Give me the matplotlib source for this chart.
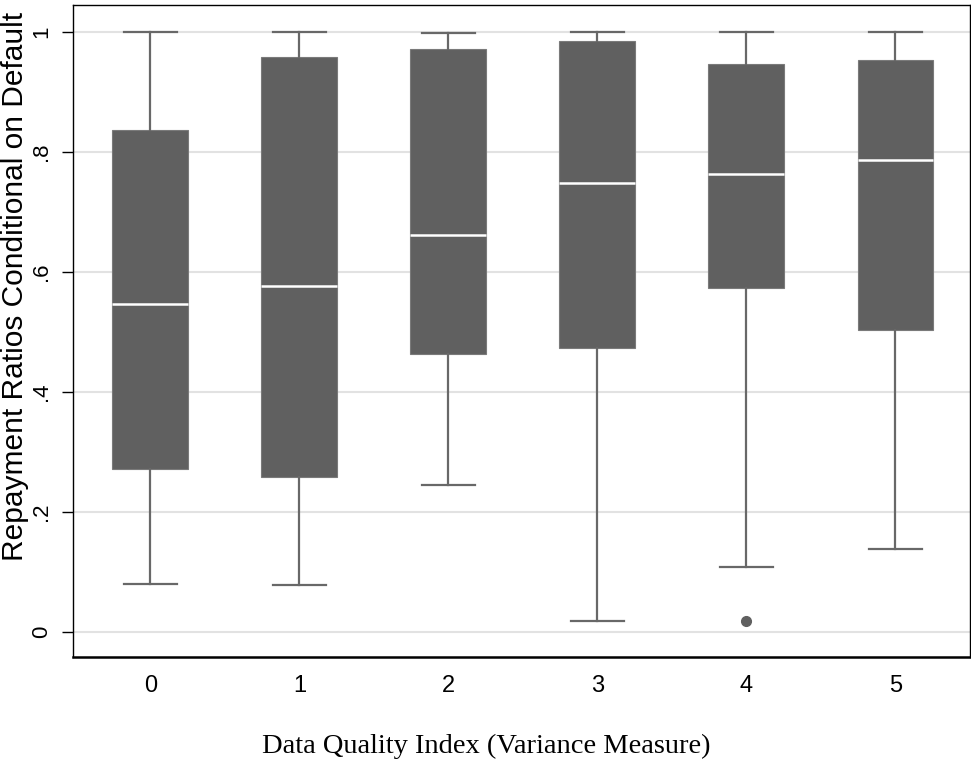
import matplotlib
matplotlib.use("Agg")
import matplotlib.pyplot as plt

categories = ["0", "1", "2", "3", "4", "5"]
whisker_low = [0.080, 0.078, 0.245, 0.018, 0.108, 0.138]
q1 = [0.272, 0.258, 0.463, 0.474, 0.574, 0.503]
median = [0.546, 0.577, 0.661, 0.749, 0.763, 0.787]
q3 = [0.837, 0.958, 0.972, 0.985, 0.946, 0.953]
whisker_high = [1.0, 1.0, 0.998, 1.0, 1.0, 1.0]
outliers = [[], [], [], [], [0.018], []]
y_ticks = [0, 0.2, 0.4, 0.6, 0.8, 1.0]
y_tick_labels = ["0", ".2", ".4", ".6", ".8", "1"]

stats = []
for i, c in enumerate(categories):
    stats.append(dict(label=c, whislo=whisker_low[i], q1=q1[i], med=median[i],
                      q3=q3[i], whishi=whisker_high[i], fliers=outliers[i]))

fig = plt.figure(figsize=(9.71, 7.62), dpi=100)
ax = fig.add_axes([73/971, 1-657/762, (970-73)/971, (657-5)/762])

box_c = "#606060"
wc = "#686868"
ax.bxp(stats, positions=range(len(categories)), widths=0.51, patch_artist=True,
       boxprops=dict(facecolor=box_c, edgecolor="#7a7a7a", linewidth=0.8),
       medianprops=dict(color="white", linewidth=1.8),
       whiskerprops=dict(color=wc, linewidth=1.6),
       capprops=dict(color=wc, linewidth=1.6),
       capwidths=0.35,
       flierprops=dict(marker="o", markerfacecolor=box_c, markeredgecolor=box_c, markersize=7),
       zorder=3)

ax.set_xlim(-0.52, 5.5)
ax.set_ylim(-0.0417, 1.045)
ax.set_yticks(y_ticks)
ax.set_yticklabels(y_tick_labels, rotation=90, va="center", fontsize=16,
                   family="Liberation Sans")
ax.set_xticks(range(len(categories)))
ax.set_xticklabels(categories, fontsize=17, family="Liberation Sans")
ax.tick_params(axis="x", length=0, pad=13)
ax.tick_params(axis="y", length=8, width=1, pad=7)
ax.yaxis.grid(True, color="#e2e2e2", linewidth=1.5, zorder=0)
ax.set_axisbelow(True)
for s in ["top", "right", "left"]:
    ax.spines[s].set_linewidth(1.0)
ax.spines["bottom"].set_linewidth(1.8)

yl = ax.set_ylabel("Repayment Ratios Conditional on Default", fontsize=21.5,
                   family="Liberation Sans")
yl.set_va("baseline")
ax.yaxis.set_label_coords((23-73)/897, (657-286.5)/652)

xl = ax.set_xlabel("Data Quality Index (Variance Measure)", fontsize=20.5,
                   family="Liberation Serif")
xl.set_va("baseline")
ax.xaxis.set_label_coords((486.5-73)/897, (657-753)/652)

fig.savefig("out.png", dpi=100)
